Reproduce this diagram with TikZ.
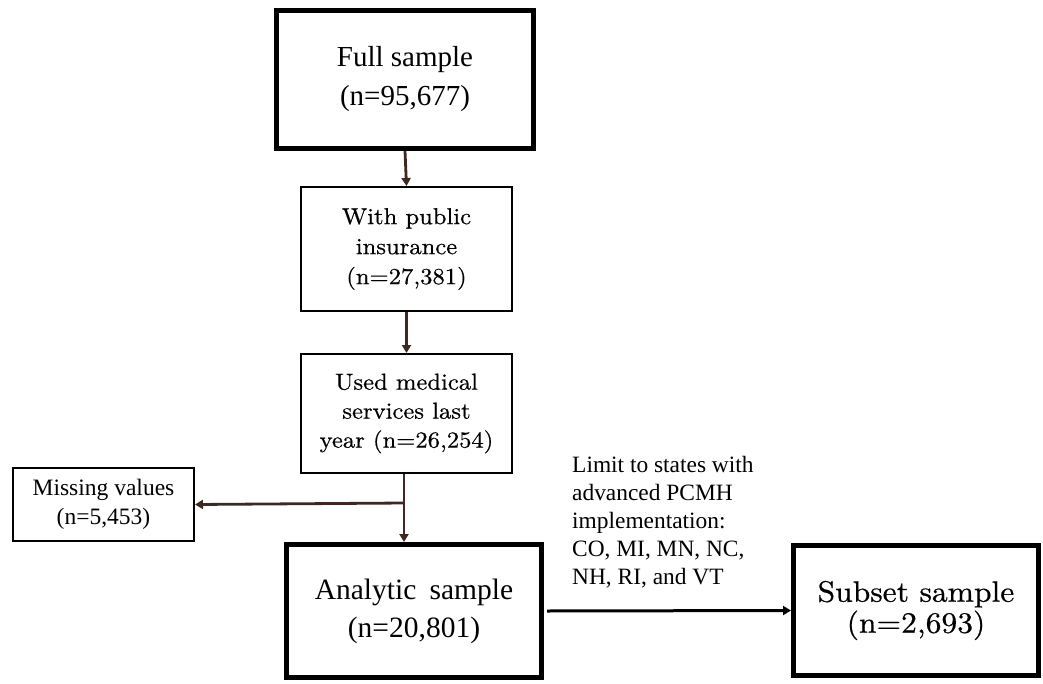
\documentclass[tikz,border=0pt]{standalone}
\usepackage{fontspec}
\setmainfont{Liberation Serif}
\newfontfamily\cent{lmroman10-regular}[Extension=.otf, FakeStretch=1.07, FakeBold=0.6]
\usetikzlibrary{arrows.meta}
\definecolor{arrowbrown}{RGB}{61,40,34}
\tikzset{
  thickbox/.style={draw=black, line width=5pt, fill=white, align=center, inner sep=0pt},
  thinbox/.style={draw=black, line width=2pt, fill=white, align=center, inner sep=0pt},
  brownarrow/.style={draw=arrowbrown, line width=2.8pt, -{Triangle[length=8pt,width=9pt]}},
  blackarrow/.style={draw=black, line width=3pt, -{Triangle[length=8pt,width=9pt]}},
}
\begin{document}
\begin{tikzpicture}[x=1pt,y=-1pt]
\useasboundingbox (0,0) rectangle (1043,683);
\fill[white] (0,0) rectangle (1043,683);

\node[thickbox, minimum width=257pt, minimum height=138pt,
      font=\fontsize{29}{39}\selectfont] (full) at (405,79.5)
  {Full sample\\(n=95,677)};

\node[thinbox, minimum width=211pt, minimum height=124pt,
      font=\cent\fontsize{23}{30}\selectfont] (public) at (406.5,249)
  {With public\\insurance\\(n=27,381)};

\node[thinbox, minimum width=211pt, minimum height=119pt,
      font=\cent\fontsize{23}{29}\selectfont] (used) at (406.5,413.5)
  {Used medical\\services last\\year (n=26,254)};

\node[thinbox, minimum width=181pt, minimum height=73pt,
      font=\fontsize{23.5}{29}\selectfont] (missing) at (103.5,504.5)
  {Missing values\\(n=5,453)};

\node[thickbox, minimum width=255pt, minimum height=133pt,
      font=\fontsize{29.5}{38}\selectfont] (analytic) at (414,611)
  {Analytic\hspace{0.2em} sample\\(n=20,801)};

\node[thickbox, minimum width=245pt, minimum height=130pt,
      font=\cent\fontsize{29.5}{31}\selectfont] (subset) at (916,610.5)
  {Subset sample\\(n=2,693)};

\node[align=left, anchor=north west, inner sep=0pt,
      font=\fontsize{23.4}{28}\selectfont] (limit) at (572,456)
  {Limit to states with\\advanced PCMH\\implementation:\\CO, MI, MN, NC,\\NH, RI, and VT};

\coordinate (split) at (404,503);

\draw[brownarrow] (full.south) -- (public.north);
\draw[brownarrow] (public.south) -- (used.north);
\draw[brownarrow] (used.south -| split) -- (analytic.north -| split);
\draw[brownarrow] (split) -- (missing.east);
\draw[blackarrow, shorten <=3pt] (analytic.east) -- (subset.west);
\end{tikzpicture}
\end{document}
